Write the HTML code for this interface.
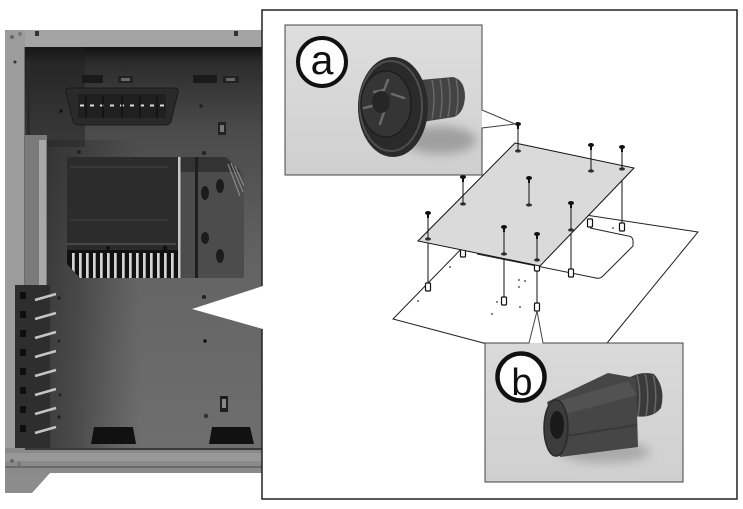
<!DOCTYPE html>
<html><head><meta charset="utf-8">
<style>html,body{margin:0;padding:0;background:#fff}svg{display:block}</style>
</head>
<body>
<svg width="743" height="509" viewBox="0 0 743 509" xmlns="http://www.w3.org/2000/svg">
<defs>
  <linearGradient id="pv" x1="0" y1="47" x2="0" y2="448" gradientUnits="userSpaceOnUse">
    <stop offset="0" stop-color="#121212"/>
    <stop offset="0.04" stop-color="#2c2c2c"/>
    <stop offset="0.2" stop-color="#4a4a4a"/>
    <stop offset="0.55" stop-color="#646464"/>
    <stop offset="1" stop-color="#6e6e6e"/>
  </linearGradient>
  <linearGradient id="ls" x1="25" y1="0" x2="140" y2="0" gradientUnits="userSpaceOnUse">
    <stop offset="0" stop-color="#222" stop-opacity="0.75"/>
    <stop offset="0.45" stop-color="#2a2a2a" stop-opacity="0.5"/>
    <stop offset="1" stop-color="#333" stop-opacity="0"/>
  </linearGradient>
  <linearGradient id="ga" x1="0" y1="0" x2="0" y2="1">
    <stop offset="0" stop-color="#dedede"/>
    <stop offset="1" stop-color="#cfcfcf"/>
  </linearGradient>
  <linearGradient id="gb" x1="0" y1="0" x2="0" y2="1">
    <stop offset="0" stop-color="#dadada"/>
    <stop offset="1" stop-color="#d0d0d0"/>
  </linearGradient>
  <filter id="bl" x="-50%" y="-50%" width="200%" height="200%"><feGaussianBlur stdDeviation="5"/></filter>
  <clipPath id="win"><path d="M67,160 Q67,157 70,157 L226,157 L244,175 L244,275 Q244,278 241,278 L80,278 L67,264 Z"/></clipPath>
</defs>

<!-- ================= LEFT PHOTO (case) ================= -->
<rect x="5" y="30" width="257" height="443" fill="#8e8e8e"/>
<rect x="5" y="30" width="257" height="17" fill="#a4a4a4"/>
<rect x="5" y="30" width="20" height="443" fill="#9c9c9c"/>
<line x1="24.5" y1="47" x2="24.5" y2="448" stroke="#6a6a6a" stroke-width="1"/>
<circle cx="12" cy="37" r="2" fill="#666"/><circle cx="20" cy="34" r="2" fill="#777"/>
<rect x="35" y="31" width="4" height="5" fill="#333"/>
<rect x="234" y="31" width="4" height="5" fill="#333"/>
<circle cx="15" cy="62" r="1.5" fill="#333"/>
<!-- panel -->
<rect x="25" y="47" width="237" height="401" fill="url(#pv)"/>
<rect x="25" y="47" width="60" height="100" fill="#1e1e1e" opacity="0.45"/>
<rect x="25" y="140" width="115" height="308" fill="url(#ls)"/>
<!-- rail -->
<rect x="25" y="135" width="22" height="155" fill="#7a7a7a"/>
<rect x="39" y="140" width="7" height="145" fill="#a8a8a8"/>
<rect x="27" y="60" width="3" height="75" fill="#2a2a2a"/>
<!-- small rects top -->
<rect x="82" y="75" width="21" height="8" fill="#1a1a1a"/>
<rect x="118" y="76" width="15" height="7" fill="#222"/><rect x="121" y="78" width="9" height="3" fill="#666"/>
<rect x="193" y="75" width="24" height="8" fill="#1a1a1a"/>
<rect x="223" y="76" width="16" height="7" fill="#222"/><rect x="226" y="78" width="9" height="3" fill="#666"/>
<!-- IO connector -->
<path d="M70,88 L174,88 Q179,88 178,93 L171,121 Q170,125 165,125 L79,125 Q74,125 73,121 L66,93 Q65,88 70,88 Z" fill="#2a2a2a" stroke="#1a1a1a"/>
<rect x="78" y="94" width="88" height="24" fill="#202020"/>
<line x1="80" y1="105.5" x2="165" y2="105.5" stroke="#ddd" stroke-width="2" stroke-dasharray="4,6"/>
<g stroke="#111" stroke-width="1.5"><line x1="86" y1="96" x2="86" y2="118"/><line x1="103" y1="96" x2="103" y2="118"/><line x1="122" y1="96" x2="122" y2="118"/><line x1="140" y1="96" x2="140" y2="118"/><line x1="157" y1="96" x2="157" y2="118"/></g>
<circle cx="61" cy="111" r="1.8" fill="#111"/><circle cx="201" cy="106" r="1.8" fill="#222"/>
<rect x="218" y="122" width="8" height="13" fill="#222"/><rect x="220" y="125" width="4" height="7" fill="#777"/>
<circle cx="79" cy="152" r="2" fill="#222"/><circle cx="204" cy="153" r="2" fill="#222"/>
<!-- window -->
<g clip-path="url(#win)">
  <rect x="60" y="150" width="190" height="135" fill="#2a2a2a"/>
  <rect x="178" y="150" width="70" height="135" fill="#4c4c4c"/>
  <rect x="178" y="150" width="70" height="22" fill="#333"/>
  <rect x="195" y="150" width="3" height="135" fill="#1e1e1e"/>
  <rect x="67" y="157" width="110" height="89" fill="#2c2c2c"/>
  <line x1="70" y1="167" x2="168" y2="167" stroke="#444"/>
  <line x1="70" y1="220" x2="168" y2="220" stroke="#444"/>
  <line x1="67" y1="244" x2="176" y2="244" stroke="#484848" stroke-width="2"/>
  <circle cx="108" cy="248" r="2" fill="#111"/><circle cx="165" cy="248" r="2.5" fill="#111"/>
  <rect x="67" y="250" width="111" height="30" fill="#111"/>
  <g fill="#d4d4d4">
    <rect x="72" y="253" width="2.7" height="25"/><rect x="79" y="253" width="2.7" height="25"/>
    <rect x="86" y="253" width="2.7" height="25"/><rect x="93" y="253" width="2.7" height="25"/>
    <rect x="100" y="253" width="2.7" height="25"/><rect x="107" y="253" width="2.7" height="25"/>
    <rect x="114" y="253" width="2.7" height="25"/><rect x="122" y="253" width="2.7" height="25"/>
    <rect x="129" y="253" width="2.7" height="25"/><rect x="136" y="253" width="2.7" height="25"/>
    <rect x="143" y="253" width="2.7" height="25"/><rect x="150" y="253" width="2.7" height="25"/>
    <rect x="157" y="253" width="2.7" height="25"/><rect x="164" y="253" width="2.7" height="25"/>
    <rect x="171" y="253" width="2.7" height="25"/>
  </g>
  <rect x="178" y="157" width="2.5" height="121" fill="#c8c8c8"/>
  <g fill="#1c1c1c">
    <ellipse cx="205" cy="193" rx="4" ry="7"/><ellipse cx="220" cy="186" rx="4" ry="7"/>
    <ellipse cx="205" cy="238" rx="4" ry="6"/><ellipse cx="220" cy="256" rx="4" ry="7"/>
  </g>
  <g stroke="#888" stroke-width="1.2"><line x1="228" y1="164" x2="240" y2="196"/><line x1="231" y1="163" x2="243" y2="192"/><line x1="234" y1="164" x2="244" y2="186"/></g>
</g>
<!-- slots -->
<rect x="15" y="285" width="35" height="165" fill="#2e2e2e"/>
<g stroke="#c4c4c4" stroke-width="2.5">
  <line x1="35" y1="300" x2="56" y2="294"/><line x1="35" y1="319" x2="56" y2="313"/>
  <line x1="35" y1="338" x2="56" y2="332"/><line x1="35" y1="357" x2="56" y2="351"/>
  <line x1="35" y1="376" x2="56" y2="370"/><line x1="35" y1="395" x2="56" y2="389"/>
  <line x1="35" y1="414" x2="56" y2="408"/><line x1="35" y1="433" x2="56" y2="427"/>
</g>
<g fill="#0e0e0e">
  <rect x="20" y="292" width="6" height="7"/><rect x="20" y="311" width="6" height="7"/>
  <rect x="20" y="330" width="6" height="7"/><rect x="20" y="349" width="6" height="7"/>
  <rect x="20" y="368" width="6" height="7"/><rect x="20" y="387" width="6" height="7"/>
  <rect x="20" y="406" width="6" height="7"/><rect x="20" y="425" width="6" height="7"/>
</g>
<g fill="#222"><circle cx="59" cy="298" r="1.8"/><circle cx="59" cy="341" r="1.5"/><circle cx="60" cy="395" r="1.5"/><circle cx="59" cy="417" r="1.8"/></g>
<!-- lower panel fixtures -->
<circle cx="204" cy="297" r="2" fill="#222"/>
<circle cx="205" cy="341" r="1.8" fill="#111"/>
<rect x="220" y="396" width="8" height="16" fill="#1e1e1e"/><rect x="222" y="399" width="4" height="9" fill="#888"/>
<circle cx="206" cy="416" r="2.2" fill="#333"/>
<path d="M94,427 L133,427 L136,444 L91,444 Z" fill="#111"/>
<path d="M212,427 L250,427 L254,444 L209,444 Z" fill="#111"/>
<!-- bottom frame -->
<rect x="5" y="448" width="257" height="25" fill="#8a8a8a"/>
<rect x="25" y="448" width="237" height="2" fill="#3a3a3a"/>
<rect x="5" y="453" width="257" height="8" fill="#989898"/>
<rect x="5" y="466" width="257" height="2" fill="#6a6a6a"/>
<circle cx="12" cy="461" r="2" fill="#666"/><circle cx="19" cy="464" r="2" fill="#777"/>
<path d="M5,473 L50,473 L32,493 L5,493 Z" fill="#8c8c8c"/>
<!-- white notch pointer -->
<polygon points="192,309 263,286 263,329" fill="#fff"/>

<!-- ================= RIGHT FRAME ================= -->
<path d="M262,286 L262,10 L737,10 L737,499 L262,499 L262,329" fill="none" stroke="#222" stroke-width="1.5"/>

<!-- tray -->
<polygon points="393,319 506,203 698,232 585,370" fill="#fff" stroke="#222" stroke-width="1"/>
<path d="M477,254 L596,278 Q600,279 603,276 L633,246 L633,240 Q632,236 628,236 L590,228" fill="none" stroke="#222" stroke-width="1"/>
<g fill="#333">
  <circle cx="450" cy="267" r="0.9"/><circle cx="418" cy="301" r="0.9"/><circle cx="519" cy="280" r="0.9"/>
  <circle cx="525" cy="281" r="0.9"/><circle cx="519" cy="287" r="0.9"/><circle cx="497" cy="302" r="0.9"/>
  <circle cx="520" cy="307" r="0.9"/><circle cx="492" cy="314" r="0.9"/><circle cx="613" cy="228" r="0.9"/>
</g>
<!-- lines beneath board -->
<g stroke="#111" stroke-width="1">
  <line x1="622" y1="169" x2="622" y2="224"/>
  <line x1="571" y1="230" x2="571" y2="270"/>
  <line x1="428" y1="239" x2="428" y2="284"/>
  <line x1="504" y1="254" x2="504" y2="298"/>
  <line x1="537" y1="260" x2="537" y2="304"/>
</g>
<!-- standoffs -->
<g fill="#fff" stroke="#111" stroke-width="1.2">
  <rect x="460.5" y="249" width="5" height="8" rx="1"/>
  <rect x="587.5" y="219" width="5" height="8" rx="1"/>
  <rect x="619.5" y="223" width="5" height="8" rx="1"/>
  <rect x="568.5" y="269" width="5" height="8" rx="1"/>
  <rect x="425.5" y="283" width="5" height="8" rx="1"/>
  <rect x="501.5" y="297" width="5" height="8" rx="1"/>
  <rect x="534.5" y="263" width="5" height="8" rx="1"/>
  <rect x="534.5" y="303" width="5" height="8" rx="1"/>
</g>
<!-- board -->
<polygon points="515,143 634,168 540,266 418,241" fill="#dadada" stroke="#111" stroke-width="1"/>
<!-- holes -->
<g fill="#333">
  <ellipse cx="518" cy="151" rx="3" ry="1.6"/><ellipse cx="591" cy="171" rx="3" ry="1.6"/>
  <ellipse cx="622" cy="169" rx="3" ry="1.6"/><ellipse cx="463" cy="204" rx="3" ry="1.6"/>
  <ellipse cx="529" cy="205" rx="3" ry="1.6"/><ellipse cx="571" cy="230" rx="3" ry="1.6"/>
  <ellipse cx="428" cy="239" rx="3" ry="1.6"/><ellipse cx="504" cy="254" rx="3" ry="1.6"/>
  <ellipse cx="537" cy="260" rx="3" ry="1.6"/>
</g>
<!-- screws above -->
<g stroke="#111" stroke-width="1">
  <line x1="518" y1="125" x2="518" y2="151"/><line x1="591" y1="146" x2="591" y2="171"/>
  <line x1="622" y1="148" x2="622" y2="169"/><line x1="463" y1="178" x2="463" y2="204"/>
  <line x1="529" y1="179" x2="529" y2="205"/><line x1="571" y1="204" x2="571" y2="230"/>
  <line x1="428" y1="214" x2="428" y2="239"/><line x1="504" y1="228" x2="504" y2="254"/>
  <line x1="537" y1="235" x2="537" y2="260"/>
</g>
<g fill="#111">
  <ellipse cx="518" cy="124" rx="3" ry="2"/><rect x="517" y="124" width="2" height="5"/>
  <ellipse cx="591" cy="145" rx="3" ry="2"/><rect x="590" y="145" width="2" height="5"/>
  <ellipse cx="622" cy="147" rx="3" ry="2"/><rect x="621" y="147" width="2" height="5"/>
  <ellipse cx="463" cy="177" rx="3" ry="2"/><rect x="462" y="177" width="2" height="5"/>
  <ellipse cx="529" cy="178" rx="3" ry="2"/><rect x="528" y="178" width="2" height="5"/>
  <ellipse cx="571" cy="203" rx="3" ry="2"/><rect x="570" y="203" width="2" height="5"/>
  <ellipse cx="428" cy="213" rx="3" ry="2"/><rect x="427" y="213" width="2" height="5"/>
  <ellipse cx="504" cy="227" rx="3" ry="2"/><rect x="503" y="227" width="2" height="5"/>
  <ellipse cx="537" cy="234" rx="3" ry="2"/><rect x="536" y="234" width="2" height="5"/>
</g>

<!-- ================= CALLOUT A ================= -->
<rect x="285" y="25" width="197" height="150" fill="url(#ga)"/>
<polygon points="482,110 515,124 482,128" fill="#fff"/>
<path d="M482,110 L515,124 L482,128 L482,175 L285,175 L285,25 L482,25 Z" fill="none" stroke="#444" stroke-width="1"/>
<ellipse cx="440" cy="140" rx="36" ry="14" fill="#8a8a8a" opacity="0.7" filter="url(#bl)"/>
<path d="M420,80 L453,77 Q465,80 465,97 Q464,113 454,117 L422,122 Z" fill="#434343"/>
<g stroke="#6a6a6a" stroke-width="1.4" fill="none">
  <path d="M432,80 Q436,98 432,119"/><path d="M440,79 Q444,98 440,118"/>
  <path d="M448,78 Q452,97 448,117"/><path d="M456,79 Q460,97 456,115"/>
</g>
<ellipse cx="393" cy="107" rx="35" ry="50" fill="#2a2a2a"/>
<ellipse cx="391" cy="106" rx="31" ry="45" fill="none" stroke="#4e4e4e" stroke-width="2"/>
<ellipse cx="386" cy="104" rx="25" ry="33" fill="#353535" stroke="#1e1e1e" stroke-width="1.5"/>
<path d="M374,92 L384,90 L388,80 M392,94 L404,98 M384,112 L380,124 M372,106 L364,108" stroke="#6a6a6a" stroke-width="2.5" fill="none" stroke-linecap="round"/>
<ellipse cx="381" cy="102" rx="9" ry="11" fill="#262626"/>
<circle cx="322" cy="62" r="24" fill="#fff" stroke="#111" stroke-width="4"/>
<text x="322" y="74" font-family="Liberation Sans, sans-serif" font-size="41" text-anchor="middle" fill="#111">a</text>

<!-- ================= CALLOUT B ================= -->
<rect x="485" y="343" width="198" height="139" fill="url(#gb)"/>
<polygon points="529,343 537,311 543,343" fill="#fff"/>
<path d="M529,343 L537,311 L543,343 L683,343 L683,482 L485,482 L485,343 Z" fill="none" stroke="#444" stroke-width="1"/>
<ellipse cx="605" cy="452" rx="45" ry="11" fill="#999" opacity="0.7" filter="url(#bl)"/>
<path d="M622,382 Q638,370 654,374 Q666,388 661,408 Q652,419 634,416 Z" fill="#3a3a3a"/>
<g stroke="#666" stroke-width="1.5" fill="none">
  <path d="M637,375 Q642,395 638,416"/><path d="M645,373 Q650,394 646,416"/><path d="M653,375 Q658,393 654,414"/>
</g>
<path d="M547,402 L608,373 L636,378 L638,447 L560,457 Z" fill="#464646"/>
<path d="M556,402 L628,381 L637,395 L566,414 Z" fill="#525252"/>
<line x1="566" y1="436" x2="637" y2="425" stroke="#383838" stroke-width="2"/>
<ellipse cx="556" cy="428" rx="12" ry="28" fill="#3c3c3c" stroke="#2a2a2a" stroke-width="1.5"/>
<ellipse cx="557" cy="425" rx="7" ry="14" fill="#1a1a1a"/>
<circle cx="521" cy="377" r="23.5" fill="#fff" stroke="#111" stroke-width="4.5"/>
<text x="522" y="395" font-family="Liberation Sans, sans-serif" font-size="38" text-anchor="middle" fill="#111">b</text>
</svg>
</body></html>
